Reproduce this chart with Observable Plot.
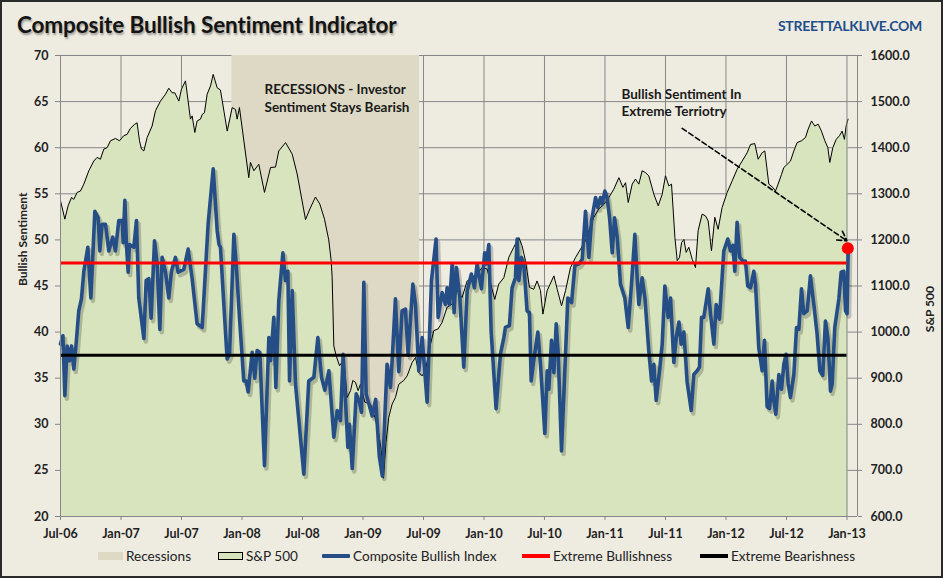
<!DOCTYPE html>
<html>
<head>
<meta charset="utf-8">
<script src="https://cdn.jsdelivr.net/npm/d3@7"></script>
<script src="https://cdn.jsdelivr.net/npm/@observablehq/plot@0.6"></script>
<style>
html, body { margin: 0; padding: 0; background: #ffffff; }
#chart { position: relative; width: 943px; height: 578px; box-sizing: border-box; border: 2px solid #2a2a2a; background: #EEECE1; font-family: Lato, "Open Sans", sans-serif; overflow: hidden; }
#title { position: absolute; left: 15px; top: 9px; font-size: 22.5px; font-weight: 700; color: #141414; letter-spacing: -0.1px; text-shadow: 1px 2px 2px rgba(0,0,0,0.35); white-space: nowrap; }
#brand { position: absolute; right: 19px; top: 15px; font-size: 14px; font-weight: 700; color: #1F4E8C; letter-spacing: -0.3px; white-space: nowrap; }
#plot { position: absolute; left: 0; top: 43px; }
#legend { position: absolute; left: 0; top: 544px; width: 939px; height: 20px; font-size: 13.6px; color: #222; }
.item { position: absolute; top: 0; height: 20px; display: flex; align-items: center; white-space: nowrap; }
.sw { display: inline-block; margin-right: 3px; box-sizing: border-box; }
#plot svg [aria-label="y-axis tick label"], #plot svg [aria-label="x-axis tick label"] { font-weight: bold; }
</style>
</head>
<body>
<div id="chart">
  <div id="title">Composite Bullish Sentiment Indicator</div>
  <div id="brand">STREETTALKLIVE.COM</div>
  <div id="plot"></div>
  <div id="legend"></div>
</div>
<script>
// ---------- DATA ----------
const xTicks = [2006.5, 2007, 2007.5, 2008, 2008.5, 2009, 2009.5, 2010, 2010.5, 2011, 2011.5, 2012, 2012.5, 2013];
const xTickLabels = ["Jul-06","Jan-07","Jul-07","Jan-08","Jul-08","Jan-09","Jul-09","Jan-10","Jul-10","Jan-11","Jul-11","Jan-12","Jul-12","Jan-13"];
const leftTicks = [20, 25, 30, 35, 40, 45, 50, 55, 60, 65, 70];
const spTicks = [600, 700, 800, 900, 1000, 1100, 1200, 1300, 1400, 1500, 1600];

const recessionStarts = [2007.917];
const recessionEnds = [2009.467];

const bullishLevel = 47.5;
const bearishLevel = 37.5;

// Composite Bullish Index (decimal year, value)
const sentimentDates = [
2006.500,2006.520,2006.536,2006.555,2006.574,2006.591,2006.610,2006.629,2006.651,2006.673,
2006.693,2006.726,2006.751,2006.784,2006.811,2006.825,2006.844,2006.872,2006.899,2006.932,
2006.954,2006.982,2007.010,2007.018,2007.032,2007.045,2007.059,2007.070,2007.106,2007.128,
2007.147,2007.189,2007.208,2007.230,2007.249,2007.277,2007.299,2007.321,2007.340,2007.368,
2007.395,2007.417,2007.450,2007.472,2007.519,2007.555,2007.588,2007.629,2007.671,2007.720,
2007.762,2007.795,2007.810,2007.822,2007.850,2007.877,2007.897,2007.933,2007.952,2007.979,
2008.015,2008.034,2008.051,2008.084,2008.106,2008.125,2008.147,2008.186,2008.222,2008.236,
2008.263,2008.280,2008.304,2008.338,2008.359,2008.379,2008.393,2008.415,2008.442,2008.511,
2008.552,2008.594,2008.627,2008.657,2008.685,2008.718,2008.759,2008.787,2008.814,2008.836,
2008.875,2008.888,2008.911,2008.944,2008.971,2008.988,2009.007,2009.026,2009.076,2009.105,
2009.135,2009.160,2009.199,2009.227,2009.241,2009.268,2009.296,2009.323,2009.351,2009.373,
2009.412,2009.434,2009.461,2009.489,2009.530,2009.566,2009.604,2009.621,2009.654,2009.682,
2009.695,2009.715,2009.737,2009.753,2009.772,2009.800,2009.833,2009.861,2009.896,2009.921,
2009.943,2009.979,2010.006,2010.020,2010.040,2010.059,2010.100,2010.136,2010.164,2010.177,
2010.210,2010.232,2010.260,2010.274,2010.288,2010.310,2010.329,2010.356,2010.376,2010.390,
2010.411,2010.445,2010.467,2010.503,2010.522,2010.536,2010.558,2010.578,2010.597,2010.613,
2010.641,2010.668,2010.693,2010.724,2010.751,2010.784,2010.812,2010.839,2010.867,2010.889,
2010.922,2010.941,2010.963,2010.977,2010.999,2011.018,2011.038,2011.060,2011.079,2011.101,
2011.128,2011.164,2011.192,2011.219,2011.247,2011.266,2011.280,2011.307,2011.330,2011.362,
2011.385,2011.404,2011.423,2011.451,2011.473,2011.495,2011.522,2011.542,2011.569,2011.589,
2011.611,2011.630,2011.652,2011.679,2011.713,2011.734,2011.762,2011.781,2011.798,2011.817,
2011.853,2011.872,2011.900,2011.919,2011.946,2011.982,2012.015,2012.037,2012.057,2012.073,
2012.092,2012.114,2012.139,2012.161,2012.180,2012.203,2012.230,2012.244,2012.271,2012.299,
2012.318,2012.340,2012.360,2012.382,2012.395,2012.412,2012.437,2012.459,2012.478,2012.497,
2012.514,2012.533,2012.561,2012.583,2012.602,2012.624,2012.643,2012.671,2012.698,2012.726,
2012.753,2012.776,2012.800,2012.822,2012.842,2012.864,2012.878,2012.899,2012.933,2012.952,
2012.974,2012.988,2013.001,2013.010
];
const sentimentValues = [
38.7,39.6,33.1,38.5,36.9,38.5,36.0,38.7,42.3,43.6,
46.6,49.2,43.7,53.1,52.4,48.8,51.7,51.7,48.8,50.3,
48.8,52.1,52.1,49.7,54.3,49.5,46.5,49.5,49.2,52.1,
43.7,39.3,45.6,45.8,41.5,49.9,47.4,40.3,48.1,46.5,
43.7,46.6,48.1,46.5,46.8,49.0,45.8,40.9,40.5,51.7,
57.7,51.0,49.5,49.2,43.0,37.1,37.6,50.6,47.4,41.6,
34.7,34.7,33.5,37.8,35.0,38.0,37.8,25.5,39.4,36.9,
41.6,34.0,43.4,48.6,45.6,46.6,34.7,44.5,34.4,24.6,
34.7,35.1,39.4,35.1,33.7,35.8,28.6,31.5,30.4,37.6,
27.5,30.0,25.2,33.3,32.4,31.3,45.4,33.3,30.9,32.7,
26.5,24.4,36.5,34.0,36.9,43.6,35.7,42.3,42.5,37.5,
45.2,43.0,35.8,39.4,32.4,45.6,50.1,41.6,44.3,43.0,
44.8,43.0,47.4,42.1,47.0,43.8,36.2,44.5,46.3,44.8,
47.4,44.7,48.6,47.4,49.5,40.1,31.7,37.6,39.4,40.5,
40.7,44.8,45.9,50.1,45.6,48.1,47.4,42.3,42.1,34.7,
36.9,40.0,36.5,29.0,35.8,33.8,39.1,35.6,40.9,37.8,
27.1,35.8,43.7,43.2,47.2,47.4,47.9,53.1,48.1,52.1,
54.6,53.5,54.6,53.9,55.3,54.6,52.4,48.6,52.4,50.3,
45.2,43.7,40.5,45.2,50.6,45.9,43.0,45.9,43.7,38.0,
34.7,36.5,32.6,35.8,38.7,45.0,41.6,43.7,36.7,39.4,
41.1,38.7,40.0,34.6,31.5,35.4,35.8,36.2,41.6,41.6,
44.7,42.0,38.7,43.0,41.4,48.8,50.1,48.8,49.4,46.6,
51.9,48.1,47.7,47.7,45.0,44.8,46.6,45.2,38.3,35.8,
39.1,31.9,31.7,34.7,32.6,31.1,35.4,33.8,36.5,37.6,
34.4,32.9,35.4,40.5,40.3,44.7,42.0,42.3,46.1,43.0,
39.8,35.8,35.3,41.2,39.4,33.6,34.4,40.5,43.6,46.5,
46.6,42.3,42.0,49.1
];

// S&P 500 (decimal year, index level)
const spDates = [
2006.500,2006.536,2006.563,2006.591,2006.610,2006.638,2006.665,2006.693,2006.734,2006.775,
2006.803,2006.830,2006.858,2006.885,2006.913,2006.954,2006.988,2007.023,2007.051,2007.078,
2007.114,2007.133,2007.153,2007.169,2007.189,2007.216,2007.257,2007.285,2007.326,2007.368,
2007.395,2007.423,2007.445,2007.478,2007.500,2007.533,2007.555,2007.574,2007.588,2007.610,
2007.629,2007.657,2007.671,2007.690,2007.712,2007.740,2007.762,2007.795,2007.822,2007.878,
2007.919,2007.946,2007.960,2007.979,2008.056,2008.070,2008.098,2008.139,2008.186,2008.236,
2008.277,2008.304,2008.360,2008.415,2008.456,2008.525,2008.561,2008.607,2008.643,2008.682,
2008.717,2008.737,2008.745,2008.759,2008.778,2008.806,2008.842,2008.869,2008.897,2008.916,
2008.938,2008.960,2008.979,2009.015,2009.062,2009.098,2009.131,2009.150,2009.170,2009.190,
2009.213,2009.241,2009.268,2009.296,2009.337,2009.365,2009.406,2009.434,2009.461,2009.489,
2009.516,2009.558,2009.585,2009.621,2009.654,2009.695,2009.737,2009.778,2009.819,2009.861,
2009.902,2009.943,2009.985,2010.026,2010.067,2010.089,2010.122,2010.164,2010.205,2010.246,
2010.288,2010.315,2010.343,2010.376,2010.411,2010.439,2010.467,2010.487,2010.522,2010.578,
2010.605,2010.641,2010.674,2010.715,2010.757,2010.798,2010.839,2010.867,2010.908,2010.949,
2010.991,2011.032,2011.073,2011.115,2011.148,2011.170,2011.192,2011.225,2011.252,2011.280,
2011.307,2011.335,2011.362,2011.404,2011.440,2011.473,2011.500,2011.528,2011.550,2011.578,
2011.597,2011.616,2011.633,2011.652,2011.671,2011.693,2011.721,2011.748,2011.770,2011.803,
2011.831,2011.853,2011.880,2011.908,2011.935,2011.968,2012.010,2012.051,2012.092,2012.134,
2012.175,2012.203,2012.238,2012.266,2012.299,2012.321,2012.354,2012.387,2012.409,2012.431,
2012.459,2012.478,2012.506,2012.533,2012.561,2012.588,2012.624,2012.657,2012.679,2012.707,
2012.734,2012.762,2012.789,2012.817,2012.842,2012.858,2012.883,2012.911,2012.938,2012.960,
2012.979,2012.993,2013.009
];
const spValues = [
1285,1245,1274,1292,1288,1303,1306,1321,1350,1371,
1379,1375,1397,1400,1415,1420,1415,1426,1429,1442,
1451,1454,1415,1397,1393,1422,1447,1480,1501,1516,
1529,1519,1519,1501,1527,1545,1501,1462,1469,1433,
1458,1462,1472,1476,1516,1534,1559,1530,1525,1436,
1487,1483,1462,1487,1335,1368,1350,1364,1303,1357,
1358,1393,1411,1386,1343,1244,1267,1293,1278,1245,
1200,1155,1120,970,949,927,941,858,873,895,
891,873,887,848,844,815,779,745,683,760,
815,844,858,887,895,905,934,945,913,905,
916,974,1003,1007,1021,1054,1061,1090,1075,1111,
1118,1126,1140,1137,1093,1071,1104,1118,1162,1184,
1205,1187,1155,1097,1093,1111,1090,1039,1090,1122,
1093,1057,1090,1140,1162,1180,1198,1220,1249,1267,
1277,1292,1310,1335,1314,1324,1281,1321,1332,1321,
1350,1346,1339,1299,1274,1299,1339,1317,1321,1205,
1155,1162,1194,1201,1173,1184,1158,1140,1220,1256,
1252,1241,1176,1249,1223,1270,1303,1328,1353,1371,
1389,1407,1409,1375,1389,1393,1321,1314,1306,1321,
1342,1357,1364,1371,1393,1411,1415,1422,1440,1458,
1447,1451,1436,1415,1400,1368,1400,1418,1426,1436,
1418,1447,1462
];

const latestDate = 2013.007;
const latestValue = 49.1;

const annotationTexts = ["RECESSIONS - Investor\nSentiment Stays Bearish", "Bullish Sentiment In\nExtreme Terriotry"];
const annotationDates = [2008.186, 2011.136];
const annotationValues = [65.45, 64.97];

const arrowFrom = [2011.638, 62.1];
const arrowTo = [2013.0, 49.9];

const legendLabels = ["Recessions", "S&P 500", "Composite Bullish Index", "Extreme Bullishness", "Extreme Bearishness"];

// ---------- BUILD ----------
const xStart = 2006.5, xEnd = 2013.087;
const spToLeft = d3.scaleLinear([600, 1600], [20, 70]);
const sentiment = sentimentDates.map((t, i) => ({t, v: sentimentValues[i]}));
const sp = spDates.map((t, i) => ({t, v: spToLeft(spValues[i])}));
const recessions = recessionStarts.map((s, i) => ({start: s, end: recessionEnds[i]}));
const annotations = annotationTexts.map((txt, i) => ({txt, t: annotationDates[i], v: annotationValues[i]}));
const gridColor = "#868686";
const FONT = "Lato, 'Open Sans', sans-serif";

const chart = Plot.plot({
  width: 939,
  height: 501,
  marginTop: 10,
  marginBottom: 30,
  marginLeft: 58,
  marginRight: 84,
  style: {background: "transparent", fontFamily: FONT, fontSize: "12.5px", color: "#222", overflow: "visible"},
  x: {type: "linear", domain: [xStart, xEnd]},
  y: {domain: [20, 70]},
  marks: [
    // gridlines
    Plot.ruleY(leftTicks.slice(1), {x1: xStart, x2: xEnd, stroke: gridColor, strokeWidth: 1}),
    Plot.ruleX(xTicks.slice(1, -1), {y1: 20, y2: 70, stroke: gridColor, strokeWidth: 1}),
    // recession shading
    Plot.rect(recessions, {x1: "start", x2: "end", y1: 20, y2: 70, fill: "#DDD9C4"}),
    // S&P 500 area
    Plot.areaY(sp, {x: "t", y1: 20, y2: "v", fill: "#D7E4BD"}),
    Plot.line(sp, {x: "t", y: "v", stroke: "#000", strokeWidth: 1}),
    Plot.ruleX([xTicks[xTicks.length - 1]], {y1: 20, y2: 70, stroke: gridColor, strokeWidth: 1}),
    // sentiment with shadow
    Plot.line(sentiment, {x: "t", y: "v", stroke: "#000", strokeOpacity: 0.2, strokeWidth: 4.5, dx: 2, dy: 3, strokeLinejoin: "round"}),
    Plot.line(sentiment, {x: "t", y: "v", stroke: "#264E86", strokeWidth: 3.6, strokeLinejoin: "round"}),
    // extreme levels
    Plot.ruleY([bullishLevel], {x1: xStart, x2: xTicks[xTicks.length - 1], stroke: "#FF0000", strokeWidth: 3}),
    Plot.ruleY([bearishLevel], {x1: xStart, x2: xTicks[xTicks.length - 1], stroke: "#000", strokeWidth: 3}),
    // axes lines
    Plot.ruleY([20], {x1: xStart, x2: xEnd, stroke: gridColor, strokeWidth: 1}),
    Plot.ruleX([xStart], {y1: 20, y2: 70, stroke: gridColor, strokeWidth: 1}),
    Plot.ruleX([xEnd], {y1: 20, y2: 70, stroke: gridColor, strokeWidth: 1}),
    // latest dot
    Plot.dot([{t: latestDate, v: latestValue}], {x: "t", y: "v", r: 6, fill: "#FF0000"}),
    // arrow
    Plot.arrow([{x1: arrowFrom[0], y1: arrowFrom[1], x2: arrowTo[0], y2: arrowTo[1]}],
      {x1: "x1", y1: "y1", x2: "x2", y2: "y2", stroke: "#000", strokeWidth: 1.6, strokeDasharray: "5,3", headLength: 10, bend: 0}),
    // annotations
    Plot.text(annotations, {x: "t", y: "v", text: "txt", textAnchor: "start", lineAnchor: "middle", lineHeight: 1.28, fontSize: 13.5, fontWeight: "bold", fill: "#1a1a1a"}),
    // axes
    Plot.axisX(xTicks, {anchor: "bottom", tickFormat: d => xTickLabels[xTicks.indexOf(d)], tickSize: 4, tickPadding: 9, stroke: gridColor, fill: "#222", fontWeight: "bold", fontSize: 12.5, label: null}),
    Plot.axisY(leftTicks, {anchor: "left", tickSize: 5, tickPadding: 7, stroke: gridColor, fill: "#222", fontWeight: "bold", fontSize: 12.5, label: null}),
    Plot.axisY(spTicks.map(d => spToLeft(d)), {anchor: "right", tickFormat: d => spToLeft.invert(d).toFixed(1), tickSize: 4, tickPadding: 9, stroke: gridColor, fill: "#222", fontWeight: "bold", fontSize: 12.5, label: null}),
    // axis titles
    Plot.text(["Bullish Sentiment"], {frameAnchor: "left", dx: -37, rotate: -90, text: d => d, fontWeight: "bold", fontSize: 12, fill: "#222"}),
    Plot.text(["S&P 500"], {frameAnchor: "right", dx: 73, rotate: -90, text: d => d, fontWeight: "bold", fontSize: 12, fill: "#222"})
  ]
});
document.getElementById("plot").appendChild(chart);

// legend
const legendSwatches = [
  {left: 96, style: "width:25px;height:8px;background:#DDD9C4;"},
  {left: 216, style: "width:25px;height:8px;background:#D7E4BD;border:1px solid #000;"},
  {left: 320, style: "width:28px;height:4px;background:#264E86;border-radius:1px;"},
  {left: 520, style: "width:28px;height:4px;background:#FF0000;"},
  {left: 698, style: "width:28px;height:4px;background:#000;"}
];
const legend = document.getElementById("legend");
legendLabels.forEach((lab, i) => {
  const it = document.createElement("div");
  it.className = "item";
  it.style.left = legendSwatches[i].left + "px";
  const sw = document.createElement("span");
  sw.className = "sw";
  sw.setAttribute("style", legendSwatches[i].style);
  const tx = document.createElement("span");
  tx.textContent = lab;
  it.appendChild(sw);
  it.appendChild(tx);
  legend.appendChild(it);
});
</script>
</body>
</html>
